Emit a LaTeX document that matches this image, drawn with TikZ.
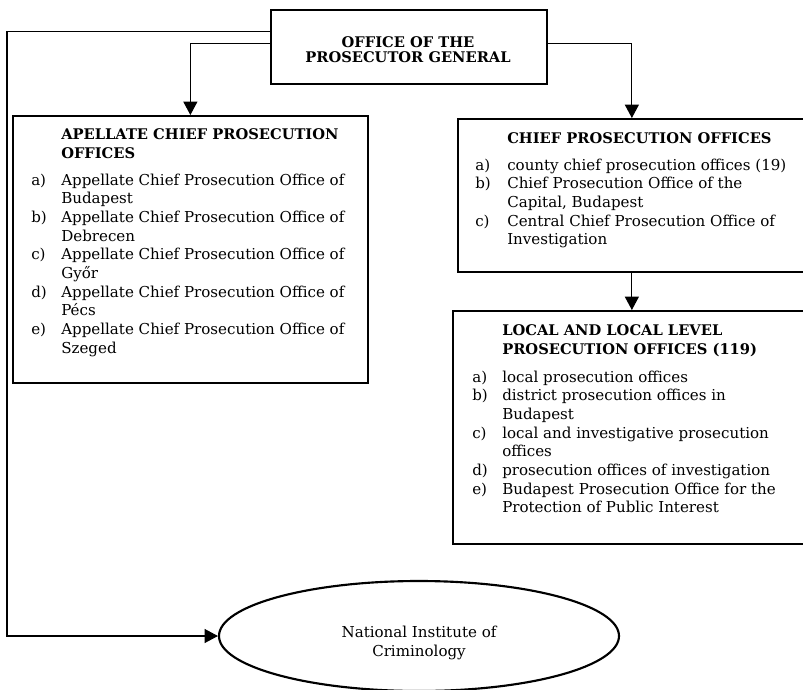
\documentclass[tikz,border=0pt]{standalone}
\usepackage{fontspec}
\setmainfont{DejaVu Serif}
\usetikzlibrary{shapes.geometric,arrows.meta}
\newcommand{\bodyfont}{\fontsize{11.3}{14}\selectfont}
\newcommand{\headfont}{\fontsize{11}{14.25}\selectfont\bfseries}
\begin{document}
\begin{tikzpicture}[x=0.75pt,y=-0.75pt,
  box/.style={draw,line width=1.3pt,rectangle,inner sep=0pt,anchor=north west},
  conn/.style={line width=0.8pt},
  arr/.style={conn,-{Triangle[length=10pt,width=10.5pt]}},
  txt/.style={inner sep=0pt,anchor=base west,font=\bodyfont},
  headtxt/.style={inner sep=0pt,anchor=base west,font=\headfont}]
\useasboundingbox (0,0) rectangle (803,689);
\clip (0,0) rectangle (803,689);
% boxes
\node[box,minimum width=207pt,minimum height=55.5pt] (top) at (270,9) {};
\node[box,minimum width=266.25pt,minimum height=200.25pt] (left) at (12,115) {};
\node[box,minimum width=261pt,minimum height=114.75pt] (chief) at (457,118) {};
\node[box,minimum width=267pt,minimum height=174.75pt] (local) at (452,310) {};
\node[ellipse,draw,line width=1.6pt,minimum width=300pt,minimum height=82.5pt,
      inner sep=0pt] (nic) at (419,636) {};
% texts
\node[inner sep=0pt,anchor=base,font=\fontsize{11}{11.25}\selectfont\bfseries] (toptxt) at (408,47)
  {\begin{tabular}[t]{@{}c@{}}OFFICE OF THE\\PROSECUTOR GENERAL\end{tabular}};
\node[inner sep=0pt,align=center,font=\bodyfont] (nictxt) at (419,643)
  {National Institute of\\Criminology};
\node[headtxt] (lefthead) at (61,139)
  {\begin{tabular}[t]{@{}l@{}}APELLATE CHIEF PROSECUTION\\OFFICES\end{tabular}};
\node[txt] (leftitems) at (31,185)
  {\begin{tabular}[t]{@{}p{22.5pt}@{}l@{}}
  a) & Appellate Chief Prosecution Office of\\
     & Budapest\\
  b) & Appellate Chief Prosecution Office of\\
     & Debrecen\\
  c) & Appellate Chief Prosecution Office of\\
     & Győr\\
  d) & Appellate Chief Prosecution Office of\\
     & Pécs\\
  e) & Appellate Chief Prosecution Office of\\
     & Szeged
  \end{tabular}};
\node[headtxt] (chiefhead) at (507,143)
  {\begin{tabular}[t]{@{}l@{}}CHIEF PROSECUTION OFFICES\end{tabular}};
\node[txt] (chiefitems) at (475,170)
  {\begin{tabular}[t]{@{}p{24pt}@{}l@{}}
  a) & county chief prosecution offices (19)\\
  b) & Chief Prosecution Office of the\\
     & Capital, Budapest\\
  c) & Central Chief Prosecution Office of\\
     & Investigation
  \end{tabular}};
\node[headtxt] (localhead) at (502,335)
  {\begin{tabular}[t]{@{}l@{}}LOCAL AND LOCAL LEVEL\\PROSECUTION OFFICES (119)\end{tabular}};
\node[txt] (localitems) at (472,382)
  {\begin{tabular}[t]{@{}p{22.5pt}@{}l@{}}
  a) & local prosecution offices\\
  b) & district prosecution offices in\\
     & Budapest\\
  c) & local and investigative prosecution\\
     & offices\\
  d) & prosecution offices of investigation\\
  e) & Budapest Prosecution Office for the\\
     & Protection of Public Interest
  \end{tabular}};
% connectors
\coordinate (lc) at (7,0);
\draw[arr] ([yshift=11.25pt]top.west) -| (lc |- nic.west) -- (nic.west);
\draw[arr] ([yshift=2.25pt]top.west) -| (left.north);
\draw[arr] ([yshift=2.25pt]top.east) -| (chief.north);
\draw[arr] (chief.south) -- (chief.south |- local.north);
\end{tikzpicture}
\end{document}
